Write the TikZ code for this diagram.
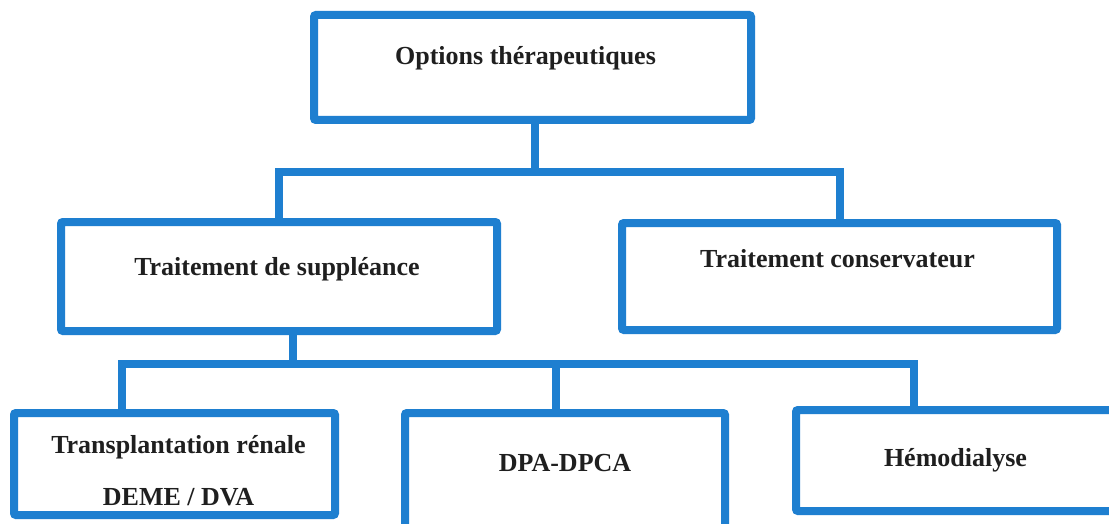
\documentclass[tikz,border=0pt]{standalone}
\usepackage{fontspec}
\setmainfont{Liberation Serif}
\definecolor{boxblue}{HTML}{1E7FD0}
\begin{document}
\begin{tikzpicture}[x=1pt,y=-1pt,
  box/.style={draw=boxblue, line width=8pt, rounded corners=2pt, fill=white, inner sep=0pt},
  conn/.style={draw=boxblue, line width=8pt},
  lbl/.style={font=\fontsize{26}{30}\selectfont\bfseries, text=black!88, align=center}]
\clip (0,0) rectangle (1109,524);
\fill[white] (0,0) rectangle (1109,524);
% boxes
\node[box, minimum width=437pt, minimum height=105pt, label={[lbl, xshift=-7pt, yshift=9.5pt]center:Options thérapeutiques}] (O) at (532.5,67.5) {};
\node[box, minimum width=436pt, minimum height=109pt, label={[lbl, xshift=-2pt, yshift=7.5pt]center:Traitement de suppléance}] (TS) at (279,276.5) {};
\node[box, minimum width=435pt, minimum height=107pt, label={[lbl, xshift=-2pt, yshift=18pt]center:Traitement conservateur}] (TC) at (839.5,276.5) {};
\node[box, minimum width=321pt, minimum height=102pt, label={[lbl, xshift=4pt, yshift=-6.5pt]center:Transplantation rénale\\[22pt]DEME / DVA}] (T) at (174.5,464) {};
\node[box, minimum width=320pt, minimum height=122pt, label={[lbl, yshift=11pt]center:DPA-DPCA}] (D) at (565,474) {};
\node[box, minimum width=319pt, minimum height=101pt, label={[lbl]center:Hémodialyse}] (H) at (955.5,460.5) {};
% junction coordinates
\coordinate (j1) at (535,172);
\coordinate (j2) at (293,364);
\coordinate (t1) at (122,364);
\coordinate (d1) at (556,364);
\coordinate (h1) at (914,364);
% connectors
\draw[conn] (O.south -| j1) -- (j1);
\draw[conn] (TS.north) |- (j1) -| (TC.north);
\draw[conn] (TS.south -| j2) -- (j2);
\draw[conn] (T.north -| t1) -- (t1) -- (h1) -- (H.north -| h1);
\draw[conn] (d1) -- (D.north -| d1);
\end{tikzpicture}
\end{document}
